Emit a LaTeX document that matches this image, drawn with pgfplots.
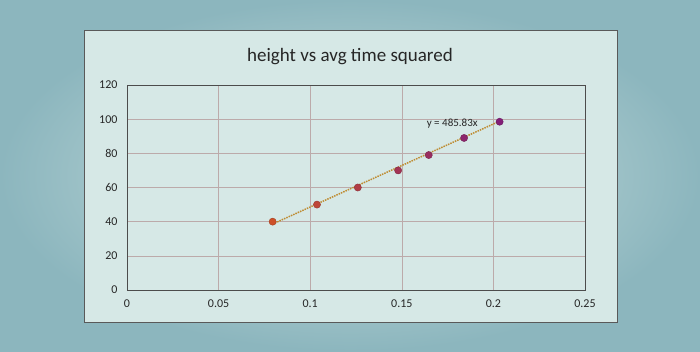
\documentclass[border=0pt]{standalone}
\usepackage{pgfplots}
\pgfplotsset{compat=1.18}
\usepackage{fontspec}
\setmainfont{Carlito}
\definecolor{bgouter}{RGB}{140,182,190}
\definecolor{bginner}{RGB}{206,226,224}
\definecolor{chartbg}{RGB}{214,232,230}
\definecolor{gridc}{RGB}{188,170,170}
\definecolor{trend}{RGB}{190,140,50}
\definecolor{ptA}{RGB}{205,80,40}
\definecolor{ptB}{RGB}{130,30,120}
\begin{document}
\begin{tikzpicture}
\shade[inner color=bginner, outer color=bgouter] (0pt,0pt) rectangle (700pt,351pt);
\fill[chartbg] (84pt,29pt) rectangle (617pt,321pt);
\draw[gray!70!black, line width=0.6pt] (84pt,29pt) rectangle (617pt,321pt);
\node[font=\fontsize{19}{22}\selectfont, text=black!85] at (350pt,294pt) {height vs avg time squared};
\begin{axis}[
  at={(127pt,61pt)}, anchor=south west,
  scale only axis, width=458pt, height=205pt,
  xmin=0, xmax=0.25, ymin=0, ymax=120,
  xtick={0,0.05,...,0.25}, ytick={0,20,...,120},
  xticklabels={0,0.05,0.1,0.15,0.2,0.25},
  grid=major,
  major grid style={gridc, line width=0.5pt},
  axis line style={gray!60!black, line width=0.5pt},
  tick style={draw=none},
  ticklabel style={font=\fontsize{12}{14}\selectfont, text=black!85},
  /pgf/number format/assume math mode=true,
  xtick style={draw=none},
  xticklabel style={yshift=-6pt},
  yticklabel style={xshift=-6pt},
  colormap={pts}{color=(ptA) color=(ptB)},
]
\addplot[trend, line width=1.5pt, densely dotted] coordinates {(0.0795,38.62) (0.2034,98.82)};
\addplot[scatter, only marks, mark=*, mark size=3.6pt, point meta=x,
  scatter/use mapped color={draw=mapped color!80!black, fill=mapped color}]
  coordinates {
  (0.0795,40) (0.1037,50) (0.1260,60) (0.1480,70) (0.1647,79) (0.1840,89) (0.2034,98.5)
  };
\node[font=\fontsize{11}{12}\selectfont, text=black!85] at (axis cs:0.1775,97.5) {y = 485.83x};
\end{axis}
\end{tikzpicture}
\end{document}
